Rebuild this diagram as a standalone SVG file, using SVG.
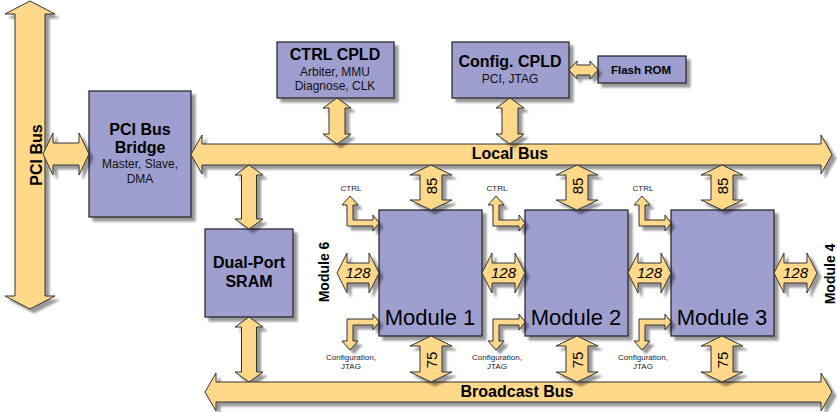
<svg xmlns="http://www.w3.org/2000/svg" width="837" height="412" viewBox="0 0 837 412">
<defs>
<filter id="sh" x="-20%" y="-20%" width="150%" height="150%">
<feGaussianBlur in="SourceAlpha" stdDeviation="1"/>
<feOffset dx="4" dy="4" result="o"/>
<feComponentTransfer><feFuncA type="linear" slope="0.4"/></feComponentTransfer>
<feMerge><feMergeNode/><feMergeNode in="SourceGraphic"/></feMerge>
</filter>
<style>
.box{fill:#9f9fcf;stroke:#222;stroke-width:1.2;filter:url(#sh)}
.arr{fill:#ffd88a;stroke:#333;stroke-width:1;stroke-linejoin:miter;filter:url(#sh)}
text{font-family:"Liberation Sans",Arial,sans-serif;fill:#000;text-anchor:middle}
.t{font-weight:bold;font-size:16px}
.s{font-size:12px;fill:#111}
.f{font-weight:bold;font-size:11.5px}
.m{font-size:22px}
.n{font-size:15px;font-style:italic}
.v{font-size:15px}
.tiny{font-size:8px;fill:#222}
.rl{font-weight:bold;font-size:14px}
</style>
</defs>
<rect width="837" height="412" fill="#fff"/>

<g id="bridge">
<rect class="box" x="89" y="91" width="102" height="126"/>
<text class="t" x="140" y="135">PCI Bus</text>
<text class="t" x="140" y="153">Bridge</text>
<text class="s" x="140" y="168">Master, Slave,</text>
<text class="s" x="140" y="183">DMA</text>
</g>
<g id="ctrl-cpld">
<rect class="box" x="277" y="42" width="117" height="56"/>
<text class="t" x="335" y="60">CTRL CPLD</text>
<text class="s" x="335" y="76">Arbiter, MMU</text>
<text class="s" x="335" y="90">Diagnose, CLK</text>
</g>
<g id="config-cpld">
<rect class="box" x="452" y="42" width="117" height="56"/>
<text class="t" x="510" y="67">Config. CPLD</text>
<text class="s" x="510" y="83">PCI, JTAG</text>
</g>
<g id="flash-rom">
<rect class="box" x="598" y="56" width="88" height="27"/>
<text class="f" x="641" y="74">Flash ROM</text>
</g>
<g id="sram">
<rect class="box" x="205" y="229" width="88" height="88"/>
<text class="t" x="249" y="268">Dual-Port</text>
<text class="t" x="249" y="287">SRAM</text>
</g>
<g id="module1">
<rect class="box" x="379" y="210" width="103" height="126"/>
<text class="m" x="430" y="325">Module 1</text>
</g>
<g id="module2">
<rect class="box" x="525" y="210" width="103" height="126"/>
<text class="m" x="576" y="325">Module 2</text>
</g>
<g id="module3">
<rect class="box" x="671" y="210" width="103" height="126"/>
<text class="m" x="722" y="325">Module 3</text>
</g>

<g id="connectors">
<!-- PCI Bus -->
<polygon class="arr" points="30,1 55,14 45,14 45,296 55,296 30,309 5,296 15,296 15,14 5,14"/>
<text class="t" transform="translate(42,155) rotate(-90)">PCI Bus</text>
<!-- PCI <-> Bridge -->
<polygon class="arr" points="43,154 53,133 53,143 79,143 79,133 89,154 79,175 79,165 53,165 53,175"/>
<!-- Local Bus -->
<polygon class="arr" points="191,154.5 202,135 202,144 821,144 821,135 832,154.5 821,174 821,165 202,165 202,174"/>
<text class="t" x="510" y="159">Local Bus</text>
<!-- CTRL CPLD <-> Local -->
<polygon class="arr" points="337,98 351,108 345,108 345,134 351,134 337,144 323,134 329,134 329,108 323,108"/>
<!-- Config CPLD <-> Local -->
<polygon class="arr" points="510,98 524,108 518,108 518,134 524,134 510,144 496,134 502,134 502,108 496,108"/>
<!-- Config <-> Flash -->
<polygon class="arr" points="569,70 577,61 577,65 590,65 590,61 598,70 590,79 590,75 577,75 577,79"/>
<!-- Local <-> SRAM -->
<polygon class="arr" points="249,165 263,175 256.5,175 256.5,219 263,219 249,229 235,219 241.5,219 241.5,175 235,175"/>
<!-- SRAM <-> Broadcast -->
<polygon class="arr" points="249,317 263,327 256.5,327 256.5,372 263,372 249,382 235,372 241.5,372 241.5,327 235,327"/>
<!-- Broadcast Bus -->
<polygon class="arr" points="205,392 216,373 216,382 821,382 821,373 832,392 821,411 821,402 216,402 216,411"/>
<text class="t" x="517" y="397">Broadcast Bus</text>

<!-- 85 arrows -->
<polygon class="arr" points="431,165 452,175 442,175 442,200 452,200 431,210 410,200 420,200 420,175 410,175"/>
<polygon class="arr" points="577,165 598,175 588,175 588,200 598,200 577,210 556,200 566,200 566,175 556,175"/>
<polygon class="arr" points="722,165 743,175 733,175 733,200 743,200 722,210 701,200 711,200 711,175 701,175"/>
<text class="v" transform="translate(437,186) rotate(-90)">85</text>
<text class="v" transform="translate(583,186) rotate(-90)">85</text>
<text class="v" transform="translate(728,186) rotate(-90)">85</text>

<!-- 75 arrows -->
<polygon class="arr" points="431,336 452,346 442,346 442,372 452,372 431,382 410,372 420,372 420,346 410,346"/>
<polygon class="arr" points="577,336 598,346 588,346 588,372 598,372 577,382 556,372 566,372 566,346 556,346"/>
<polygon class="arr" points="722,336 743,346 733,346 733,372 743,372 722,382 701,372 711,372 711,346 701,346"/>
<text class="v" transform="translate(437,360) rotate(-90)">75</text>
<text class="v" transform="translate(583,360) rotate(-90)">75</text>
<text class="v" transform="translate(728,360) rotate(-90)">75</text>

<!-- 128 arrows -->
<polygon class="arr" points="337,273 347,253 347,263 369,263 369,253 379,273 369,293 369,283 347,283 347,293"/>
<polygon class="arr" points="482,273 492,253 492,263 515,263 515,253 525,273 515,293 515,283 492,283 492,293"/>
<polygon class="arr" points="628,273 638,253 638,263 661,263 661,253 671,273 661,293 661,283 638,283 638,293"/>
<polygon class="arr" points="774,273 784,253 784,263 807,263 807,253 817,273 807,293 807,283 784,283 784,293"/>
<text class="n" x="358" y="278">128</text>
<text class="n" x="503.5" y="278">128</text>
<text class="n" x="649.5" y="278">128</text>
<text class="n" x="795.5" y="278">128</text>

<!-- CTRL L arrows -->
<polygon class="arr" points="350,196 358,205 353,205 353,220 373,220 373,215 379,223 373,231 373,226 347,226 347,205 342,205"/>
<polygon class="arr" transform="translate(146,0)" points="350,196 358,205 353,205 353,220 373,220 373,215 379,223 373,231 373,226 347,226 347,205 342,205"/>
<polygon class="arr" transform="translate(292,0)" points="350,196 358,205 353,205 353,220 373,220 373,215 379,223 373,231 373,226 347,226 347,205 342,205"/>
<text class="tiny" x="351" y="191">CTRL</text>
<text class="tiny" x="497" y="191">CTRL</text>
<text class="tiny" x="643" y="191">CTRL</text>

<!-- Configuration L arrows -->
<polygon class="arr" points="347,319 373,319 373,314 379,322 373,330 373,325 353,325 353,341 358,341 350,350 342,341 347,341"/>
<polygon class="arr" transform="translate(146,0)" points="347,319 373,319 373,314 379,322 373,330 373,325 353,325 353,341 358,341 350,350 342,341 347,341"/>
<polygon class="arr" transform="translate(292,0)" points="347,319 373,319 373,314 379,322 373,330 373,325 353,325 353,341 358,341 350,350 342,341 347,341"/>
<text class="tiny" x="351" y="360">Configuration,</text>
<text class="tiny" x="351" y="369">JTAG</text>
<text class="tiny" x="497" y="360">Configuration,</text>
<text class="tiny" x="497" y="369">JTAG</text>
<text class="tiny" x="643" y="360">Configuration,</text>
<text class="tiny" x="643" y="369">JTAG</text>

<!-- side labels -->
<text class="rl" transform="translate(329,272) rotate(-90)">Module 6</text>
<text class="rl" transform="translate(835,274) rotate(-90)">Module 4</text>
</g>
</svg>
